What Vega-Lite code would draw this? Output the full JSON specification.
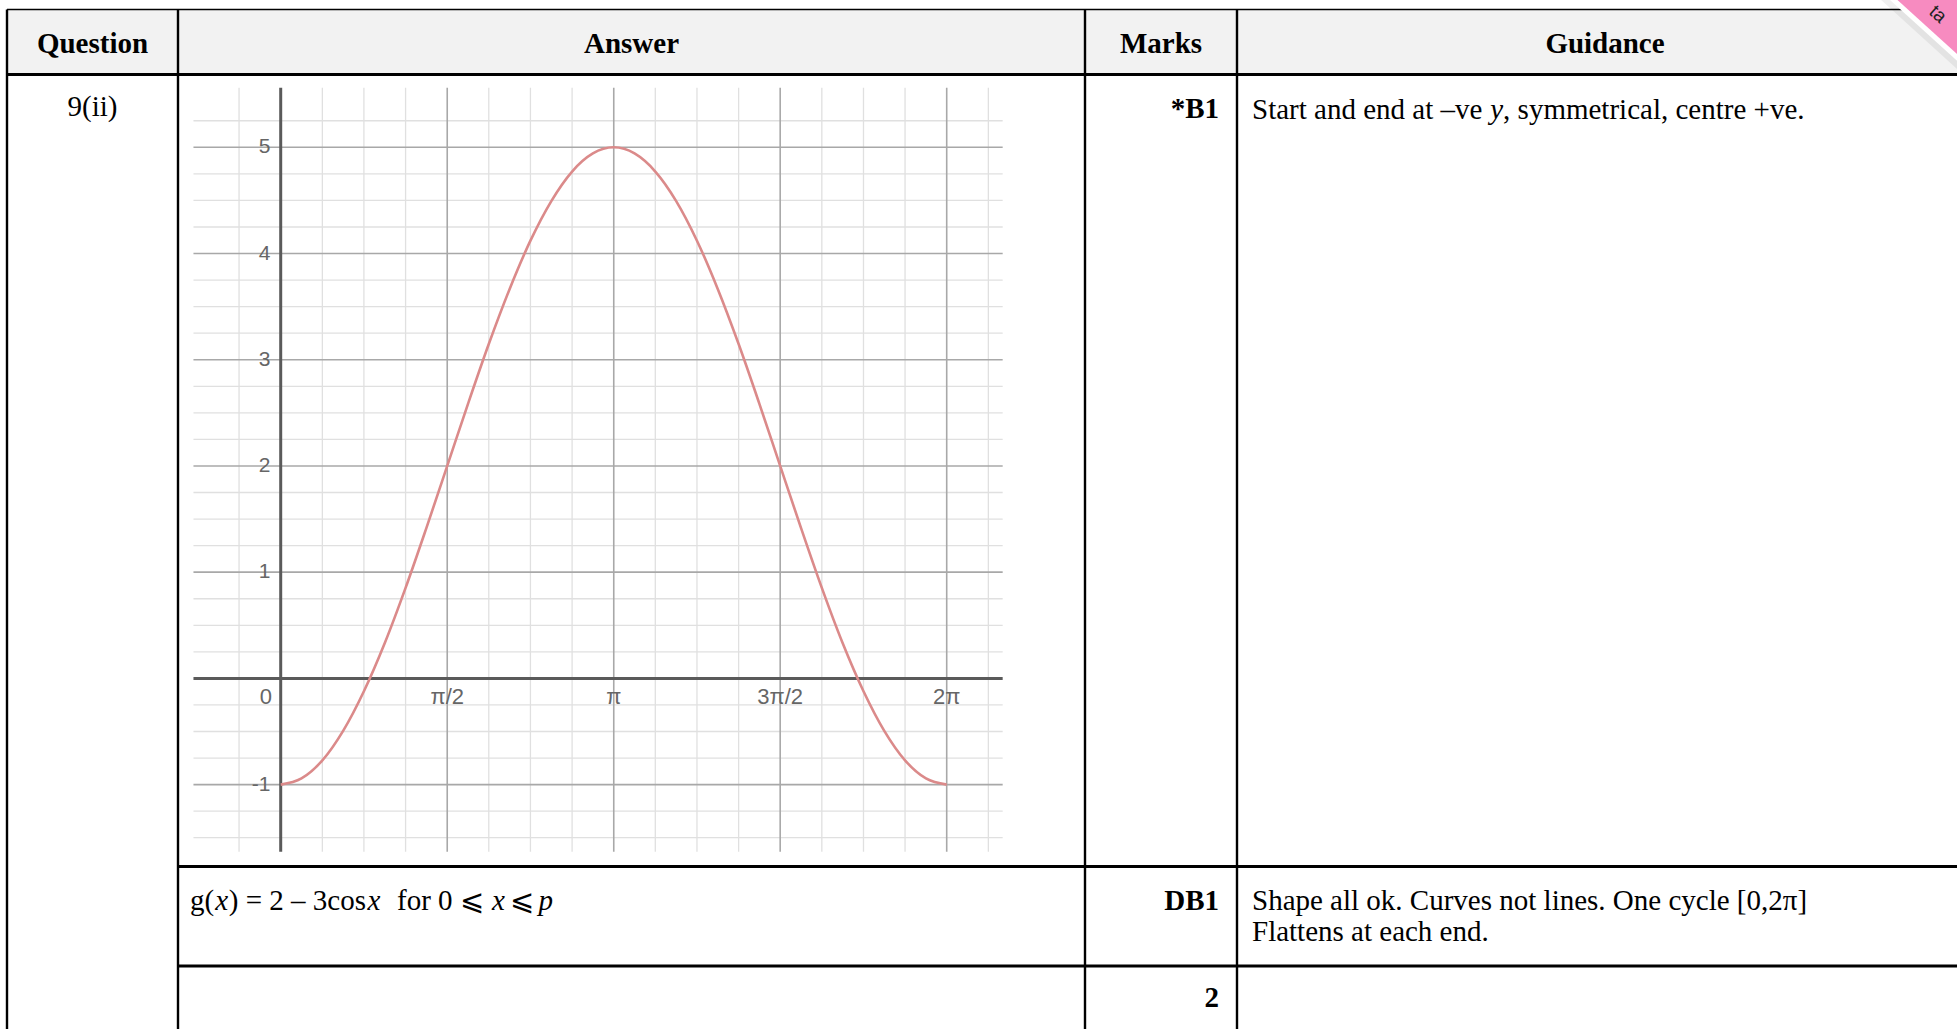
{
  "$schema": "https://vega.github.io/schema/vega-lite/v6.json",
  "width": 1957,
  "height": 1029,
  "padding": 0,
  "autosize": {"type": "none"},
  "background": "white",
  "config": {"view": {"stroke": null}},
  "datasets": {
    "header": [{"x1": 7, "x2": 1957, "y1": 9.5, "y2": 74.5}],
    "curve": [
      {"x": 0, "y": -1}, {"x": 0.196, "y": -0.942}, {"x": 0.393, "y": -0.772}, {"x": 0.589, "y": -0.494},
      {"x": 0.785, "y": -0.121}, {"x": 0.982, "y": 0.333}, {"x": 1.178, "y": 0.852}, {"x": 1.374, "y": 1.415},
      {"x": 1.571, "y": 2}, {"x": 1.767, "y": 2.585}, {"x": 1.963, "y": 3.148}, {"x": 2.16, "y": 3.667},
      {"x": 2.356, "y": 4.121}, {"x": 2.553, "y": 4.494}, {"x": 2.749, "y": 4.772}, {"x": 2.945, "y": 4.942},
      {"x": 3.142, "y": 5}, {"x": 3.338, "y": 4.942}, {"x": 3.534, "y": 4.772}, {"x": 3.731, "y": 4.494},
      {"x": 3.927, "y": 4.121}, {"x": 4.123, "y": 3.667}, {"x": 4.32, "y": 3.148}, {"x": 4.516, "y": 2.585},
      {"x": 4.712, "y": 2}, {"x": 4.909, "y": 1.415}, {"x": 5.105, "y": 0.852}, {"x": 5.301, "y": 0.333},
      {"x": 5.498, "y": -0.121}, {"x": 5.694, "y": -0.494}, {"x": 5.89, "y": -0.772}, {"x": 6.087, "y": -0.942},
      {"x": 6.283, "y": -1}
    ],
    "minorV": [{"v": -0.393}, {"v": 0.393}, {"v": 0.785}, {"v": 1.178}, {"v": 1.963}, {"v": 2.356}, {"v": 2.749}, {"v": 3.534}, {"v": 3.927}, {"v": 4.32}, {"v": 5.105}, {"v": 5.498}, {"v": 5.89}, {"v": 6.676}],
    "majorV": [{"v": 1.571}, {"v": 3.142}, {"v": 4.712}, {"v": 6.283}],
    "minorH": [{"v": -1.5}, {"v": -1.25}, {"v": -0.75}, {"v": -0.5}, {"v": -0.25}, {"v": 0.25}, {"v": 0.5}, {"v": 0.75}, {"v": 1.25}, {"v": 1.5}, {"v": 1.75}, {"v": 2.25}, {"v": 2.5}, {"v": 2.75}, {"v": 3.25}, {"v": 3.5}, {"v": 3.75}, {"v": 4.25}, {"v": 4.5}, {"v": 4.75}, {"v": 5.25}],
    "majorH": [{"v": -1}, {"v": 1}, {"v": 2}, {"v": 3}, {"v": 4}, {"v": 5}],
    "yLabels": [{"v": 5, "t": "5"}, {"v": 4, "t": "4"}, {"v": 3, "t": "3"}, {"v": 2, "t": "2"}, {"v": 1, "t": "1"}, {"v": -1, "t": "-1"}],
    "xLabels": [{"v": -0.139, "t": "0"}, {"v": 1.571, "t": "π/2"}, {"v": 3.142, "t": "π"}, {"v": 4.712, "t": "3π/2"}, {"v": 6.283, "t": "2π"}],
    "hlines": [
      {"x1": 7, "x2": 1957, "y": 74.5},
      {"x1": 178, "x2": 1957, "y": 866.5},
      {"x1": 178, "x2": 1957, "y": 966}
    ],
    "vlines": [
      {"x": 7, "y1": 9.5, "y2": 1029},
      {"x": 178, "y1": 9.5, "y2": 1029},
      {"x": 1085, "y1": 9.5, "y2": 1029},
      {"x": 1237, "y1": 9.5, "y2": 1029}
    ],
    "headers": [{"cx": 92.5, "t": "Question"}, {"cx": 631.5, "t": "Answer"}, {"cx": 1161, "t": "Marks"}, {"cx": 1605, "t": "Guidance"}],
    "marks": [{"t": "*B1", "by": 118}, {"t": "DB1", "by": 910}, {"t": "2", "by": 1007}],
    "body": [
      {"x": 1252, "by": 119, "t": "Start and end at –ve"},
      {"x": 1503.1, "by": 119, "t": ", symmetrical, centre +ve."},
      {"x": 1252, "by": 910, "t": "Shape all ok. Curves not lines. One cycle [0,2π]"},
      {"x": 1252, "by": 941, "t": "Flattens at each end."},
      {"x": 190, "by": 910, "t": "g("},
      {"x": 228.8, "by": 910, "t": ") = 2 – 3cos"},
      {"x": 397, "by": 910, "t": "for 0 ⩽"},
      {"x": 510, "by": 910, "t": "⩽"}
    ],
    "italic": [
      {"x": 1490.2, "by": 119, "t": "y"},
      {"x": 215.3, "by": 910, "t": "x"},
      {"x": 367.5, "by": 910, "t": "x"},
      {"x": 491.9, "by": 910, "t": "x"},
      {"x": 538.5, "by": 910, "t": "p"}
    ],
    "question": [{"t": "9(ii)"}],
    "one": [{}]
  },
  "layer": [
    {
      "data": {"name": "header"},
      "mark": {"type": "rect", "color": "#f2f2f2"},
      "encoding": {
        "x": {"field": "x1", "type": "quantitative", "axis": null, "scale": {"domain": [0, 1957], "nice": false, "zero": false}},
        "x2": {"field": "x2"},
        "y": {"field": "y1", "type": "quantitative", "axis": null, "scale": {"domain": [0, 1029], "nice": false, "zero": false, "reverse": true}},
        "y2": {"field": "y2"}
      }
    },
    {
      "layer": [
        {
          "data": {"name": "minorV"},
          "mark": {"type": "rule", "color": "#e0e0e0", "strokeWidth": 1.3},
          "encoding": {
            "x": {"field": "v", "type": "quantitative", "axis": null, "scale": {"domain": [-2.6481, 15.814], "nice": false, "zero": false}},
            "y": {"datum": -1.633, "type": "quantitative", "axis": null, "scale": {"domain": [-3.301, 6.387], "nice": false, "zero": false}},
            "y2": {"datum": 5.56}
          }
        },
        {
          "data": {"name": "minorH"},
          "mark": {"type": "rule", "color": "#e0e0e0", "strokeWidth": 1.3},
          "encoding": {
            "y": {"field": "v", "type": "quantitative", "axis": null, "scale": {"domain": [-3.301, 6.387], "nice": false, "zero": false}},
            "x": {"datum": -0.823, "type": "quantitative", "axis": null, "scale": {"domain": [-2.6481, 15.814], "nice": false, "zero": false}},
            "x2": {"datum": 6.811}
          }
        },
        {
          "data": {"name": "majorV"},
          "mark": {"type": "rule", "color": "#a8a8a8", "strokeWidth": 1.6},
          "encoding": {
            "x": {"field": "v", "type": "quantitative", "axis": null, "scale": {"domain": [-2.6481, 15.814], "nice": false, "zero": false}},
            "y": {"datum": -1.633, "type": "quantitative", "axis": null, "scale": {"domain": [-3.301, 6.387], "nice": false, "zero": false}},
            "y2": {"datum": 5.56}
          }
        },
        {
          "data": {"name": "majorH"},
          "mark": {"type": "rule", "color": "#a8a8a8", "strokeWidth": 1.6},
          "encoding": {
            "y": {"field": "v", "type": "quantitative", "axis": null, "scale": {"domain": [-3.301, 6.387], "nice": false, "zero": false}},
            "x": {"datum": -0.823, "type": "quantitative", "axis": null, "scale": {"domain": [-2.6481, 15.814], "nice": false, "zero": false}},
            "x2": {"datum": 6.811}
          }
        },
        {
          "data": {"name": "one"},
          "mark": {"type": "rule", "color": "#5a5a5a", "strokeWidth": 3},
          "encoding": {
            "y": {"datum": 0, "type": "quantitative", "axis": null, "scale": {"domain": [-3.301, 6.387], "nice": false, "zero": false}},
            "x": {"datum": -0.823, "type": "quantitative", "axis": null, "scale": {"domain": [-2.6481, 15.814], "nice": false, "zero": false}},
            "x2": {"datum": 6.811}
          }
        },
        {
          "data": {"name": "one"},
          "mark": {"type": "rule", "color": "#5a5a5a", "strokeWidth": 3},
          "encoding": {
            "x": {"datum": 0, "type": "quantitative", "axis": null, "scale": {"domain": [-2.6481, 15.814], "nice": false, "zero": false}},
            "y": {"datum": -1.633, "type": "quantitative", "axis": null, "scale": {"domain": [-3.301, 6.387], "nice": false, "zero": false}},
            "y2": {"datum": 5.56}
          }
        },
        {
          "data": {"name": "curve"},
          "mark": {"type": "line", "color": "#db8a8a", "strokeWidth": 2.6, "interpolate": "monotone"},
          "encoding": {
            "x": {"field": "x", "type": "quantitative", "axis": null, "scale": {"domain": [-2.6481, 15.814], "nice": false, "zero": false}},
            "y": {"field": "y", "type": "quantitative", "axis": null, "scale": {"domain": [-3.301, 6.387], "nice": false, "zero": false}}
          }
        },
        {
          "data": {"name": "yLabels"},
          "mark": {"type": "text", "font": "Liberation Sans", "fontSize": 21, "color": "#666666", "align": "right", "baseline": "middle"},
          "encoding": {
            "x": {"datum": -0.096, "type": "quantitative", "axis": null, "scale": {"domain": [-2.6481, 15.814], "nice": false, "zero": false}},
            "y": {"field": "v", "type": "quantitative", "axis": null, "scale": {"domain": [-3.301, 6.387], "nice": false, "zero": false}},
            "text": {"field": "t"}
          }
        },
        {
          "data": {"name": "xLabels"},
          "mark": {"type": "text", "font": "Liberation Sans", "fontSize": 22, "color": "#666666", "align": "center", "baseline": "middle"},
          "encoding": {
            "x": {"field": "v", "type": "quantitative", "axis": null, "scale": {"domain": [-2.6481, 15.814], "nice": false, "zero": false}},
            "y": {"datum": -0.176, "type": "quantitative", "axis": null, "scale": {"domain": [-3.301, 6.387], "nice": false, "zero": false}},
            "text": {"field": "t"}
          }
        }
      ]
    },
    {
      "layer": [
        {
          "data": {"name": "one"},
          "mark": {"type": "rule", "color": "#000000", "strokeWidth": 1.3},
          "encoding": {
            "x": {"datum": 7, "type": "quantitative", "axis": null, "scale": {"domain": [0, 1957], "nice": false, "zero": false}},
            "x2": {"datum": 1957},
            "y": {"datum": 9.5, "type": "quantitative", "axis": null, "scale": {"domain": [0, 1029], "nice": false, "zero": false, "reverse": true}}
          }
        },
        {
          "data": {"name": "hlines"},
          "mark": {"type": "rule", "color": "#000000", "strokeWidth": 2.8},
          "encoding": {
            "x": {"field": "x1", "type": "quantitative", "axis": null, "scale": {"domain": [0, 1957], "nice": false, "zero": false}},
            "x2": {"field": "x2"},
            "y": {"field": "y", "type": "quantitative", "axis": null, "scale": {"domain": [0, 1029], "nice": false, "zero": false, "reverse": true}}
          }
        },
        {
          "data": {"name": "vlines"},
          "mark": {"type": "rule", "color": "#000000", "strokeWidth": 2.4},
          "encoding": {
            "x": {"field": "x", "type": "quantitative", "axis": null, "scale": {"domain": [0, 1957], "nice": false, "zero": false}},
            "y": {"field": "y1", "type": "quantitative", "axis": null, "scale": {"domain": [0, 1029], "nice": false, "zero": false, "reverse": true}},
            "y2": {"field": "y2"}
          }
        },
        {
          "data": {"name": "headers"},
          "mark": {"type": "text", "font": "Liberation Serif", "fontSize": 29, "fontWeight": "bold", "color": "#000000", "align": "center", "baseline": "alphabetic"},
          "encoding": {
            "x": {"field": "cx", "type": "quantitative", "axis": null, "scale": {"domain": [0, 1957], "nice": false, "zero": false}},
            "y": {"datum": 53, "type": "quantitative", "axis": null, "scale": {"domain": [0, 1029], "nice": false, "zero": false, "reverse": true}},
            "text": {"field": "t"}
          }
        },
        {
          "data": {"name": "question"},
          "mark": {"type": "text", "font": "Liberation Serif", "fontSize": 29, "color": "#000000", "align": "center", "baseline": "alphabetic"},
          "encoding": {
            "x": {"datum": 92.5, "type": "quantitative", "axis": null, "scale": {"domain": [0, 1957], "nice": false, "zero": false}},
            "y": {"datum": 116, "type": "quantitative", "axis": null, "scale": {"domain": [0, 1029], "nice": false, "zero": false, "reverse": true}},
            "text": {"field": "t"}
          }
        },
        {
          "data": {"name": "marks"},
          "mark": {"type": "text", "font": "Liberation Serif", "fontSize": 29, "fontWeight": "bold", "color": "#000000", "align": "right", "baseline": "alphabetic"},
          "encoding": {
            "x": {"datum": 1219, "type": "quantitative", "axis": null, "scale": {"domain": [0, 1957], "nice": false, "zero": false}},
            "y": {"field": "by", "type": "quantitative", "axis": null, "scale": {"domain": [0, 1029], "nice": false, "zero": false, "reverse": true}},
            "text": {"field": "t"}
          }
        },
        {
          "data": {"name": "body"},
          "mark": {"type": "text", "font": "Liberation Serif", "fontSize": 29, "color": "#000000", "align": "left", "baseline": "alphabetic"},
          "encoding": {
            "x": {"field": "x", "type": "quantitative", "axis": null, "scale": {"domain": [0, 1957], "nice": false, "zero": false}},
            "y": {"field": "by", "type": "quantitative", "axis": null, "scale": {"domain": [0, 1029], "nice": false, "zero": false, "reverse": true}},
            "text": {"field": "t"}
          }
        },
        {
          "data": {"name": "italic"},
          "mark": {"type": "text", "font": "Liberation Serif", "fontSize": 29, "fontStyle": "italic", "color": "#000000", "align": "left", "baseline": "alphabetic"},
          "encoding": {
            "x": {"field": "x", "type": "quantitative", "axis": null, "scale": {"domain": [0, 1957], "nice": false, "zero": false}},
            "y": {"field": "by", "type": "quantitative", "axis": null, "scale": {"domain": [0, 1029], "nice": false, "zero": false, "reverse": true}},
            "text": {"field": "t"}
          }
        },
        {
          "data": {"name": "one"},
          "mark": {"type": "rule", "color": "#000000", "opacity": 0.06, "strokeWidth": 82},
          "encoding": {
            "x": {"datum": 1876, "type": "quantitative", "axis": null, "scale": {"domain": [0, 1957], "nice": false, "zero": false}},
            "x2": {"datum": 1995},
            "y": {"datum": -60, "type": "quantitative", "axis": null, "scale": {"domain": [0, 1029], "nice": false, "zero": false, "reverse": true}},
            "y2": {"datum": 48}
          }
        },
        {
          "data": {"name": "one"},
          "mark": {"type": "rule", "color": "#ffffff", "strokeWidth": 70},
          "encoding": {
            "x": {"datum": 1876, "type": "quantitative", "axis": null, "scale": {"domain": [0, 1957], "nice": false, "zero": false}},
            "x2": {"datum": 1995},
            "y": {"datum": -60, "type": "quantitative", "axis": null, "scale": {"domain": [0, 1029], "nice": false, "zero": false, "reverse": true}},
            "y2": {"datum": 48}
          }
        },
        {
          "data": {"name": "one"},
          "mark": {"type": "rule", "color": "#f78bc0", "strokeWidth": 60},
          "encoding": {
            "x": {"datum": 1876, "type": "quantitative", "axis": null, "scale": {"domain": [0, 1957], "nice": false, "zero": false}},
            "x2": {"datum": 1995},
            "y": {"datum": -60, "type": "quantitative", "axis": null, "scale": {"domain": [0, 1029], "nice": false, "zero": false, "reverse": true}},
            "y2": {"datum": 48}
          }
        },
        {
          "data": {"name": "one"},
          "mark": {"type": "text", "text": "ta", "font": "Liberation Sans", "fontSize": 19, "color": "#222222", "angle": 42, "align": "center", "baseline": "middle"},
          "encoding": {
            "x": {"datum": 1938, "type": "quantitative", "axis": null, "scale": {"domain": [0, 1957], "nice": false, "zero": false}},
            "y": {"datum": 14, "type": "quantitative", "axis": null, "scale": {"domain": [0, 1029], "nice": false, "zero": false, "reverse": true}}
          }
        }
      ]
    }
  ],
  "resolve": {"scale": {"x": "independent", "y": "independent"}}
}
